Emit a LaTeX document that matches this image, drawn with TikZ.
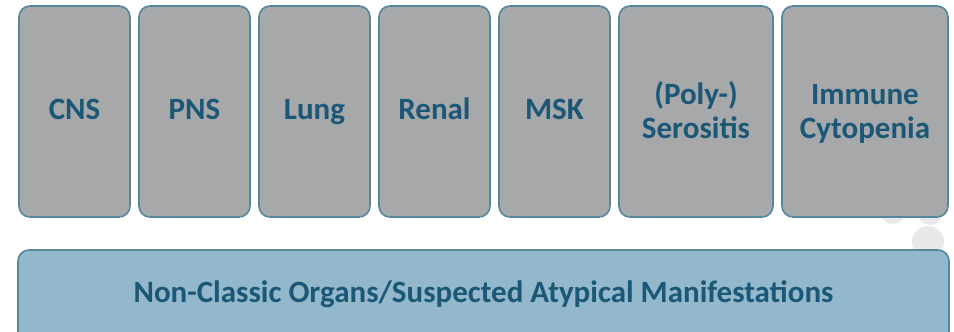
\documentclass[tikz,border=0pt]{standalone}
\usepackage{fontspec}
\setmainfont{Carlito}
\definecolor{boxfill}{HTML}{A7A8AA}
\definecolor{boxline}{HTML}{55879F}
\definecolor{txt}{HTML}{1B5776}
\definecolor{barfill}{HTML}{93B8CB}
\definecolor{faint}{HTML}{E8E8EA}
\tikzset{
  organ/.style={draw=boxline, line width=1.6pt, fill=boxfill, rounded corners=11pt},
  lbl/.style={text=txt, font=\fontsize{31}{34}\selectfont\bfseries, align=center, inner sep=0pt, anchor=base},
  bar/.style={draw=boxline, line width=1.6pt, fill=barfill, rounded corners=11pt}
}
\begin{document}
\begin{tikzpicture}[x=1pt,y=-1pt]
\useasboundingbox (0,0) rectangle (954,332);
\clip (0,0) rectangle (954,332);
\fill[faint] (928,242) circle (16);
\fill[faint] (893,212) circle (12);
\fill[faint] (930,213) circle (12);
\foreach \n/\a/\b/\t in {cns/19/130/CNS, pns/139/250/PNS, lung/259/370/Lung, renal/379/490/Renal, msk/499/610/MSK}{
  \path[organ] (\a,6) rectangle (\b,217);
  \node[lbl] (\n) at ({(\a+\b)/2},119) {\t};
}
\foreach \n/\a/\b/\t in {sero/619/773/{(Poly-)\\Serositis}, imm/782/948/{Immune\\Cytopenia}}{
  \path[organ] (\a,6) rectangle (\b,217);
  \node[lbl] (\n) at ({(\a+\b)/2},138) {\t};
}
\path[bar] (18,250) rectangle (949,350);
\node[lbl] (bar) at (483.5,302) {Non-Classic Organs/Suspected Atypical Manifestations};
\end{tikzpicture}
\end{document}
